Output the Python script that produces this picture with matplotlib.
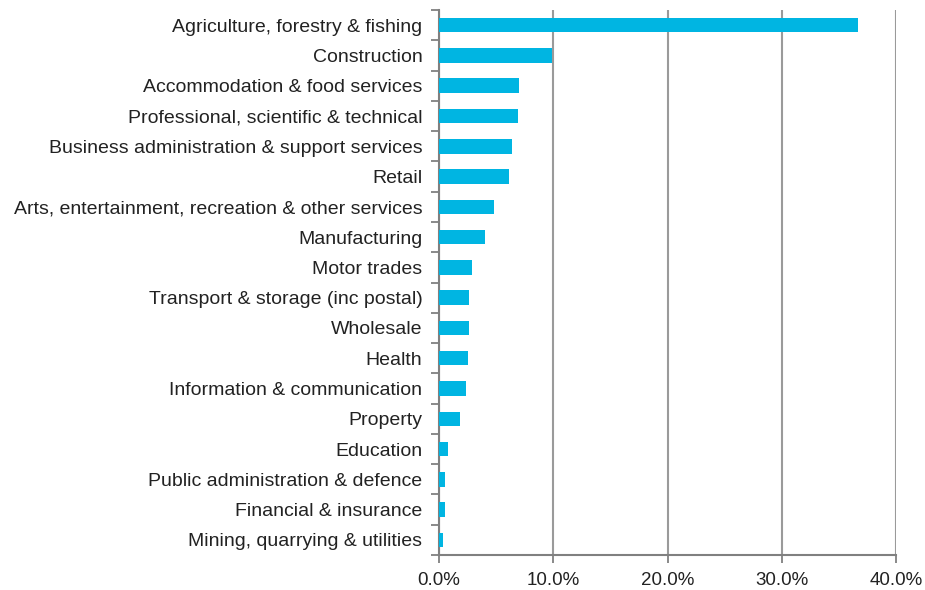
import numpy as np
import matplotlib.pyplot as plt
from matplotlib.ticker import PercentFormatter

plt.rcParams['font.family'] = ['Liberation Sans', 'DejaVu Sans']

sectors = ["Agriculture, forestry & fishing", "Construction",
           "Accommodation & food services", "Professional, scientific & technical",
           "Business administration & support services", "Retail",
           "Arts, entertainment, recreation & other services", "Manufacturing",
           "Motor trades", "Transport & storage (inc postal)", "Wholesale",
           "Health", "Information & communication", "Property", "Education",
           "Public administration & defence", "Financial & insurance",
           "Mining, quarrying & utilities"]
share = [36.7, 9.9, 7.0, 6.9, 6.4, 6.1, 4.8, 4.0, 2.9, 2.6, 2.6, 2.5, 2.4,
         1.8, 0.8, 0.55, 0.55, 0.35]
xticks = [0, 10, 20, 30, 40]

fig = plt.figure(figsize=(9.25, 5.9), dpi=100)
ax = fig.add_axes([0.4746, 0.0593, 0.4941, 0.9237])

y = np.arange(len(sectors))
ax.barh(y, share, height=0.48, color='#00B5E2', zorder=3)
ax.set_ylim(len(sectors) - 0.5, -0.5)
ax.set_xlim(0, 40)

ax.set_yticks(y)
ax.set_yticklabels(sectors, fontsize=14, color='#222222')
ax.tick_params(axis='y', which='major', length=0, pad=12)
ax.set_yticks(np.arange(-0.5, len(sectors)), minor=True)
ax.tick_params(axis='y', which='minor', length=6, width=1.3, color='#808080')

ax.set_xticks(xticks)
ax.xaxis.set_major_formatter(PercentFormatter(decimals=1))
ax.tick_params(axis='x', length=6, width=1.3, color='#808080', labelsize=13.5,
               labelcolor='#222222', pad=6)
ax.grid(axis='x', color='#9a9a9a', linewidth=1.5, zorder=0)

for s in ['top', 'right']:
    ax.spines[s].set_visible(False)
for s in ['left', 'bottom']:
    ax.spines[s].set_color('#808080')
    ax.spines[s].set_linewidth(1.5)

fig.savefig('out.png', dpi=100)
